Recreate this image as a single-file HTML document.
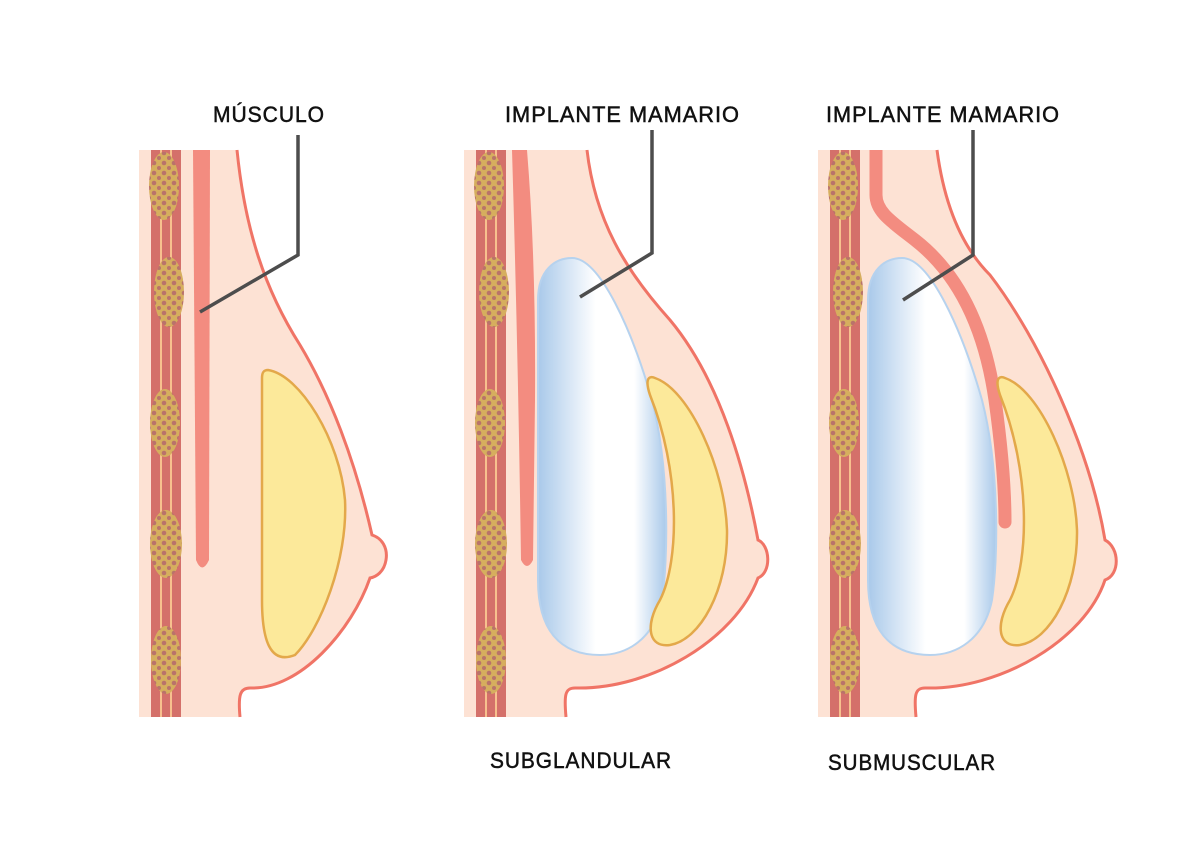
<!DOCTYPE html>
<html><head><meta charset="utf-8"><style>
html,body{margin:0;padding:0;background:#fff;width:1200px;height:855px;overflow:hidden}
svg{display:block}
text{font-family:"Liberation Sans",sans-serif;font-size:22px;fill:#111;letter-spacing:1px;stroke:#111;stroke-width:0.5}
</style></head><body>
<svg width="1200" height="855" viewBox="0 0 1200 855" xmlns="http://www.w3.org/2000/svg">
<defs>
<pattern id="dots" width="10" height="10" patternUnits="userSpaceOnUse">
<rect width="10" height="10" fill="#d6ae5e"/>
<circle cx="3" cy="3" r="2.3" fill="#b9736a"/>
<circle cx="8" cy="8" r="2" fill="#b9736a"/>
</pattern>
<linearGradient id="imp" x1="0" y1="0" x2="1" y2="0">
<stop offset="0" stop-color="#a9c9ea"/>
<stop offset="0.45" stop-color="#ffffff"/>
<stop offset="0.75" stop-color="#ffffff"/>
<stop offset="1" stop-color="#a9c9ea"/>
</linearGradient>
<g id="col">
<rect x="0" y="150" width="30" height="567" fill="#d4706a"/>
<line x1="10" y1="150" x2="10" y2="717" stroke="#f7c08e" stroke-width="2"/>
<line x1="20" y1="150" x2="20" y2="717" stroke="#f7c08e" stroke-width="2"/>
<ellipse cx="13" cy="186" rx="15" ry="34" fill="url(#dots)"/>
<ellipse cx="18" cy="292" rx="15" ry="35" fill="url(#dots)"/>
<ellipse cx="14" cy="423" rx="15" ry="34" fill="url(#dots)"/>
<ellipse cx="15" cy="544" rx="16" ry="34" fill="url(#dots)"/>
<ellipse cx="15" cy="660" rx="15" ry="34" fill="url(#dots)"/>
</g>
</defs>

<!-- Panel 1 -->
<path d="M237,150 C245,230 265,290 300,345 C330,395 355,460 372,535 C382,538 388,548 386,560 C384,572 376,577 370,578 C352,630 300,690 250,688 C240,688 238,695 240,717 L139,717 L139,150 Z" fill="#fde2d4"/>
<path d="M237,150 C245,230 265,290 300,345 C330,395 355,460 372,535 C382,538 388,548 386,560 C384,572 376,577 370,578 C352,630 300,690 250,688 C240,688 238,695 240,717" fill="none" stroke="#f07466" stroke-width="3"/>
<use href="#col" x="151"/>
<path d="M193,150 L210,150 L209,560 Q202,575 196,560 Z" fill="#f38c80"/>
<path d="M268,370 C300,375 340,440 345,500 C348,560 320,630 295,655 C270,665 262,640 262,600 L262,378 C262,372 264,370 268,370 Z" fill="#fce99a" stroke="#e3a84a" stroke-width="2.5"/>
<polyline points="298,135 298,255 200,312" fill="none" stroke="#4d4d4d" stroke-width="3.5"/>
<text x="213" y="122" textLength="112" lengthAdjust="spacingAndGlyphs">MÚSCULO</text>

<!-- Panel 2 -->
<path d="M587,150 C595,220 625,270 670,320 C720,380 745,470 758,540 C770,545 772,572 758,578 C735,640 650,690 575,688 C565,688 564,695 566,717 L464,717 L464,150 Z" fill="#fde2d4"/>
<path d="M587,150 C595,220 625,270 670,320 C720,380 745,470 758,540 C770,545 772,572 758,578 C735,640 650,690 575,688 C565,688 564,695 566,717" fill="none" stroke="#f07466" stroke-width="3"/>
<use href="#col" x="476"/>
<path d="M512,150 L527,150 Q536,260 535,400 L533,560 Q527,572 521,560 Q518,350 512,150 Z" fill="#f38c80"/>
<path d="M572,258 C600,258 632,330 652,400 C670,470 668,560 662,600 C654,640 626,655 600,655 C560,655 538,630 538,580 L538,300 C538,270 555,258 572,258 Z" fill="url(#imp)" stroke="#b6d2ee" stroke-width="2"/>
<path d="M655,378 C690,390 725,470 727,530 C728,590 700,640 670,645 C648,648 645,625 660,600 C680,560 680,470 650,395 C645,380 648,375 655,378 Z" fill="#fce99a" stroke="#e3a84a" stroke-width="2.5"/>
<polyline points="652,130 652,253 580,297" fill="none" stroke="#4d4d4d" stroke-width="3.5"/>
<text x="505" y="122" textLength="235" lengthAdjust="spacingAndGlyphs">IMPLANTE MAMARIO</text>
<text x="490" y="768" textLength="182" lengthAdjust="spacingAndGlyphs">SUBGLANDULAR</text>

<!-- Panel 3 -->
<path d="M937,150 C945,210 965,250 990,275 C1040,340 1090,450 1105,540 C1120,548 1120,575 1105,580 C1085,640 1000,690 925,688 C915,688 914,695 916,717 L818,717 L818,150 Z" fill="#fde2d4"/>
<path d="M937,150 C945,210 965,250 990,275 C1040,340 1090,450 1105,540 C1120,548 1120,575 1105,580 C1085,640 1000,690 925,688 C915,688 914,695 916,717" fill="none" stroke="#f07466" stroke-width="3"/>
<use href="#col" x="830"/>
<path d="M876,150 L876,195 C876,212 892,222 915,240 C960,275 985,330 995,400 C1002,450 1005,490 1005,522" fill="none" stroke="#f38c80" stroke-width="13" stroke-linecap="round"/>
<rect x="866" y="140" width="25" height="10" fill="#fff"/>
<path d="M902,258 C930,258 962,330 982,400 C1000,470 998,560 992,600 C984,640 956,655 930,655 C890,655 868,630 868,580 L868,300 C868,270 885,258 902,258 Z" fill="url(#imp)" stroke="#b6d2ee" stroke-width="2"/>
<path d="M1005,378 C1040,390 1075,470 1077,530 C1078,590 1050,640 1020,645 C998,648 995,625 1010,600 C1030,560 1030,470 1000,395 C995,380 998,375 1005,378 Z" fill="#fce99a" stroke="#e3a84a" stroke-width="2.5"/>
<polyline points="973,130 973,255 903,300" fill="none" stroke="#4d4d4d" stroke-width="3.5"/>
<text x="826" y="122" textLength="234" lengthAdjust="spacingAndGlyphs">IMPLANTE MAMARIO</text>
<text x="828" y="770" textLength="168" lengthAdjust="spacingAndGlyphs">SUBMUSCULAR</text>
</svg>
</body></html>
